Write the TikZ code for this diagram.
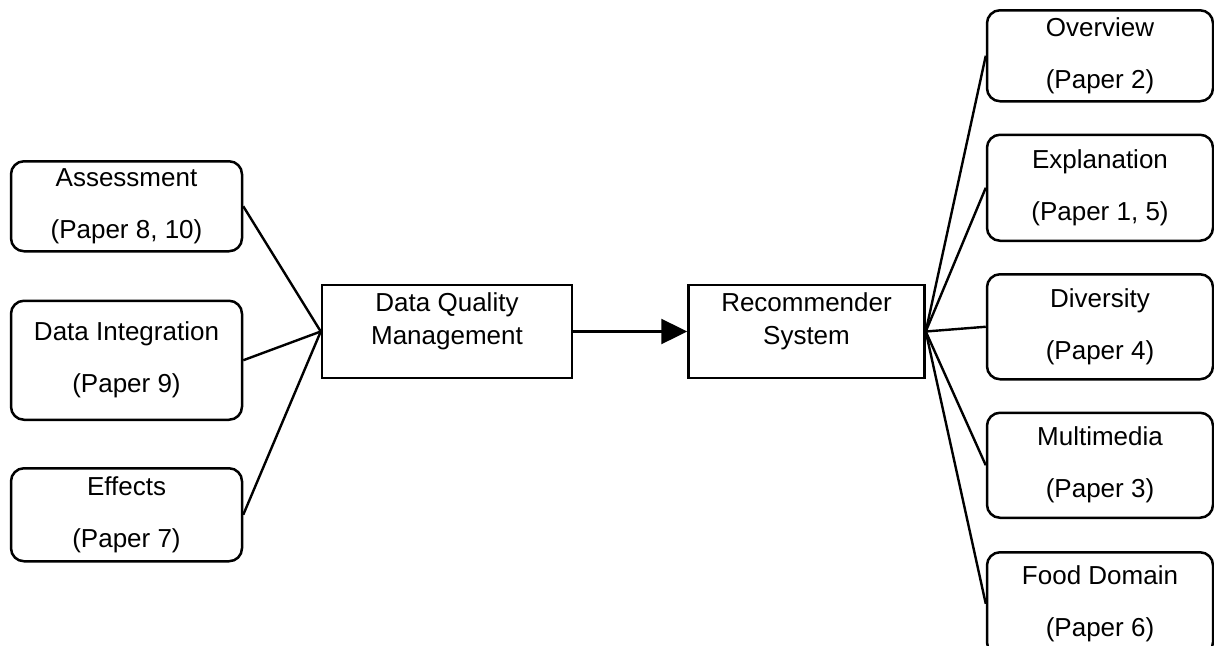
\documentclass[tikz,border=0pt]{standalone}
\usepackage{fontspec}
\setmainfont{Liberation Sans}
\usetikzlibrary{positioning, arrows.meta, calc}
\tikzset{
    topic/.style={ % Rounded boxes naming the papers
        draw,
        line width=2.5pt,
        rounded corners=13pt,
        align=center,
        font=\fontsize{26}{52}\selectfont
    },
    process/.style={ % The two square boxes in the middle
        draw,
        line width=2.5pt,
        minimum height=93pt
    },
    boxtext/.style={
        align=center,
        font=\fontsize{26}{33}\selectfont
    },
    every edge/.style={ % Plain connectors, no heads
        draw,
        line width=2.4pt
    }
}

\begin{document}
\begin{tikzpicture}[x=1pt, y=-1pt]
            \useasboundingbox (0,0) rectangle (1214,645);
            % middle
            \node[process, minimum width=250pt]                 (dqm)   at (447,331.5) {};
            \node[process, minimum width=236pt, right=114pt of dqm] (rs)  {};
            \node[boxtext] (dqmtext) at ([yshift=10pt]dqm.center) {Data Quality\\Management};
            \node[boxtext] (rstext)  at ([yshift=10pt]rs.center)  {Recommender\\System};
            % left column
            \node[topic, minimum width=231pt, minimum height=90pt, anchor=north]  (assess)  at (126.5,160) {Assessment\\(Paper 8, 10)};
            \node[topic, minimum width=231pt, minimum height=119pt, below=47pt of assess] (integ)   {Data Integration\\(Paper 9)};
            \node[topic, minimum width=231pt, minimum height=93pt, below=46pt of integ]   (effects) {Effects\\(Paper 7)};
            % right column
            \node[topic, minimum width=226pt, minimum height=91pt, anchor=north]  (over)  at (1100,9) {Overview\\(Paper 2)};
            \node[topic, minimum width=226pt, minimum height=106pt, below=31pt of over]  (expl)  {Explanation\\(Paper 1, 5)};
            \node[topic, minimum width=226pt, minimum height=105pt, below=31pt of expl]  (div)   {Diversity\\(Paper 4)};
            \node[topic, minimum width=226pt, minimum height=105pt, below=31pt of div]   (multi) {Multimedia\\(Paper 3)};
            \node[topic, minimum width=226pt, minimum height=103pt, below=32pt of multi] (food)  {Food Domain\\(Paper 6)};
            \draw   (assess.east)  edge (dqm.west)
                    (integ.east)   edge (dqm.west)
                    (effects.east) edge (dqm.west)
            ;
            \draw   (rs.east) edge (over.west)
                    (rs.east) edge (expl.west)
                    (rs.east) edge (div.west)
                    (rs.east) edge (multi.west)
                    (rs.east) edge (food.west)
            ;
            \draw[line width=2.4pt, -{Triangle[length=26pt, width=25pt]}] (dqm.east) -- (rs.west);
        \end{tikzpicture}
\end{document}
